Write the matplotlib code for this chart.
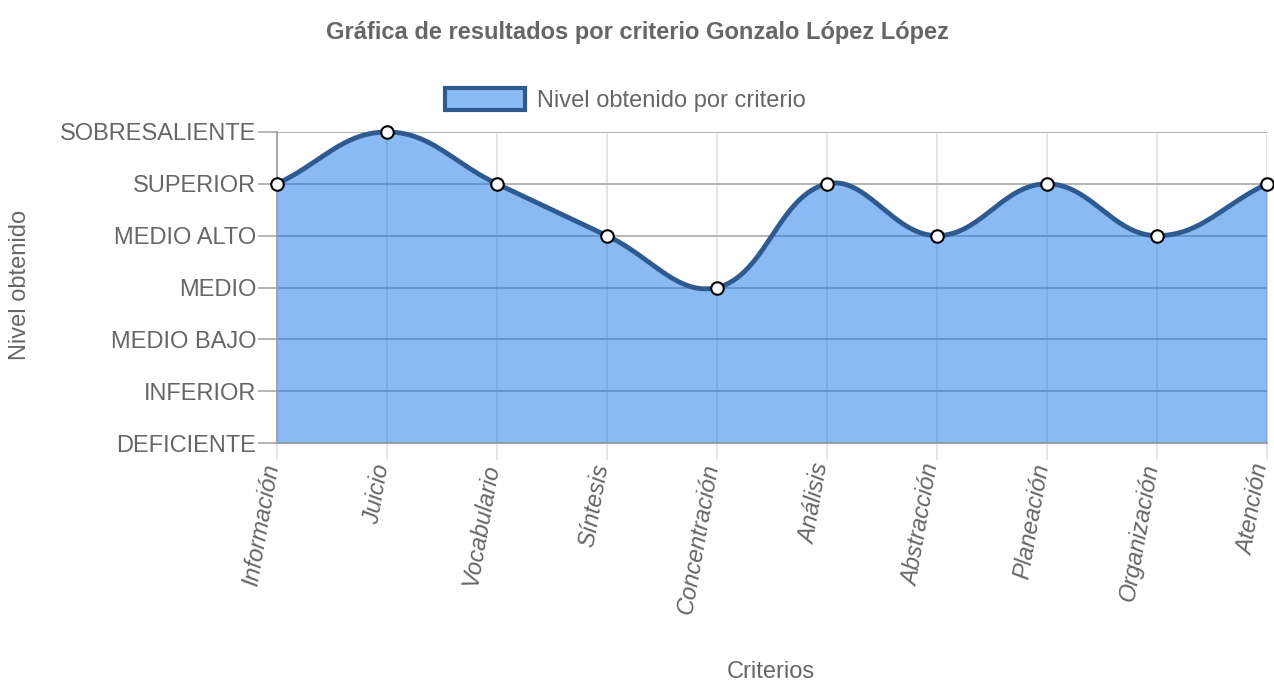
import matplotlib.pyplot as plt
import matplotlib.transforms as mtransforms
import numpy as np
from matplotlib.patches import Patch

plt.rcParams['font.family'] = ['Liberation Sans', 'DejaVu Sans']

criterios = ['Información', 'Juicio', 'Vocabulario', 'Síntesis', 'Concentración',
             'Análisis', 'Abstracción', 'Planeación', 'Organización', 'Atención']
niveles = ['DEFICIENTE', 'INFERIOR', 'MEDIO BAJO', 'MEDIO', 'MEDIO ALTO',
           'SUPERIOR', 'SOBRESALIENTE']
valores = [5, 6, 5, 4, 3, 5, 4, 5, 4, 5]

gris = '#666666'
relleno = (21/255, 119/255, 235/255, 0.5)
linea = '#2e5a90'

W, H = 1274, 696
fig = plt.figure(figsize=(W/100, H/100), dpi=100)
ax = fig.add_axes([277/W, 1 - 443/H, 990/W, 311/H])
ax.set_xlim(0, len(criterios) - 1)
ax.set_ylim(0, len(niveles) - 1)

# curva tipo Chart.js (tension 0.4) calculada en pixeles
x = np.arange(len(criterios))
pts = ax.transData.transform(np.column_stack([x, valores]))
t = 0.4
n = len(pts)
cp_prev = pts.copy()
cp_next = pts.copy()
for i in range(n):
    prev = pts[max(i - 1, 0)]
    cur = pts[i]
    nxt = pts[min(i + 1, n - 1)]
    d01 = np.hypot(*(cur - prev))
    d12 = np.hypot(*(nxt - cur))
    tot = d01 + d12
    s01 = d01 / tot if tot else 0
    s12 = d12 / tot if tot else 0
    cp_prev[i] = cur - t * s01 * (nxt - prev)
    cp_next[i] = cur + t * s12 * (nxt - prev)

u = np.linspace(0, 1, 60)[:, None]
curva = []
for i in range(n - 1):
    p0, p1, p2, p3 = pts[i], cp_next[i], cp_prev[i + 1], pts[i + 1]
    seg = ((1 - u)**3) * p0 + 3 * ((1 - u)**2) * u * p1 + 3 * (1 - u) * u**2 * p2 + u**3 * p3
    curva.append(seg if i == 0 else seg[1:])
curva = np.vstack(curva)
curva = ax.transData.inverted().transform(curva)

ax.fill_between(curva[:, 0], curva[:, 1], 0, color=relleno, lw=0, zorder=2)
ax.plot(curva[:, 0], curva[:, 1], color=linea, lw=3.5, zorder=3, clip_on=False,
        solid_capstyle='round')
ax.plot(x, valores, 'o', ms=9, mfc='white', mec='black', mew=1.5, zorder=4, clip_on=False)

ax.set_axisbelow(True)
ax.set_yticks(range(len(niveles)))
ax.set_yticklabels(niveles, fontsize=17, color=gris)
ax.set_xticks(x)
ax.set_xticklabels([])
# etiquetas rotadas del eje x, un poco a la izquierda de cada marca
trans = mtransforms.blended_transform_factory(ax.transData, ax.transAxes)
trans = trans + mtransforms.ScaledTranslation(-5/100, -21/100, fig.dpi_scale_trans)
for xi, nombre in zip(x, criterios):
    ax.text(xi, 0, nombre, transform=trans, fontsize=17, color=gris, style='italic',
            rotation=80, ha='right', va='center', rotation_mode='anchor', clip_on=False)
ax.tick_params(axis='y', length=14, width=1.2, color='#a8a8a8', pad=1)
ax.tick_params(axis='x', length=12, width=1.2, color='#e0e0e0', pad=3)
ax.grid(axis='y', color='#a8a8a8', lw=1.2)
ax.grid(axis='x', color='#e0e0e0', lw=1.2)
for s in ['top', 'right']:
    ax.spines[s].set_visible(False)
ax.spines['left'].set_color('#999999')
ax.spines['bottom'].set_color('#999999')
ax.spines['left'].set_linewidth(1.2)
ax.spines['bottom'].set_linewidth(1.2)

fig.text(637/W, 1 - 33/H, 'Gráfica de resultados por criterio Gonzalo López López',
         ha='center', va='center', fontsize=17, fontweight='bold', color=gris)
fig.text(20/W, 1 - 285/H, 'Nivel obtenido', rotation=90, ha='center', va='center',
         fontsize=17, color=gris)
fig.text(771/W, 1 - 672/H, 'Criterios', ha='center', va='center', fontsize=17, color=gris)

handle = Patch(facecolor='#8abbf5', edgecolor=linea, linewidth=3)
fig.legend([handle], ['Nivel obtenido por criterio'], loc='center',
           bbox_to_anchor=(625/W, 1 - 100/H), frameon=False, fontsize=17,
           labelcolor=gris, handlelength=3.4, handleheight=1.1, handletextpad=0.5)

fig.savefig('out.png', dpi=100)
